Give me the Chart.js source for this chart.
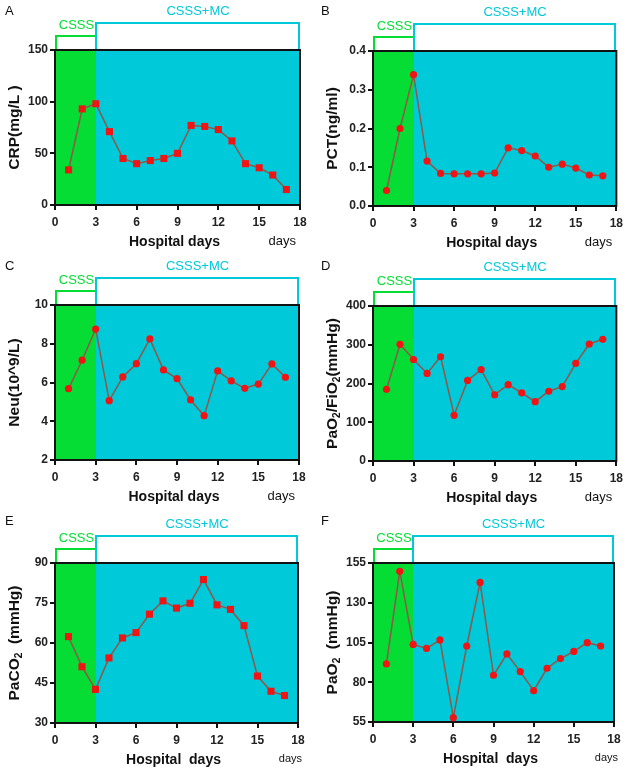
<!DOCTYPE html>
<html>
<head>
<meta charset="utf-8">
<script src="https://cdn.jsdelivr.net/npm/chart.js@4.4.1/dist/chart.umd.min.js"></script>
<style>
  html, body { margin: 0; padding: 0; background: #fff; }
  #wrap { position: relative; width: 628px; height: 772px; }
  .panel { position: absolute; }
</style>
</head>
<body>
<div id="wrap"></div>
<script>
// hospital days (x values)
const days = [1, 2, 3, 4, 5, 6, 7, 8, 9, 10, 11, 12, 13, 14, 15, 16, 17];
const xTicks = [0, 3, 6, 9, 12, 15, 18];

// series
const crp = [34, 93, 98, 71, 45, 40, 43, 45, 50, 77, 76, 73, 62, 40, 36, 29, 15];
const pct = [0.040, 0.200, 0.339, 0.116, 0.084, 0.083, 0.083, 0.083, 0.085, 0.150, 0.143, 0.129, 0.100, 0.108, 0.098, 0.080, 0.078];
const neu = [5.68, 7.15, 8.76, 5.06, 6.29, 6.97, 8.25, 6.65, 6.2, 5.1, 4.29, 6.6, 6.08, 5.7, 5.92, 6.96, 6.27];
const pfRatio = [185, 301, 262, 226, 269, 118, 208, 236, 171, 197, 176, 153, 180, 192, 252, 302, 314];
const paco2 = [62.4, 51.1, 42.6, 54.4, 61.9, 63.9, 70.8, 75.8, 73.1, 74.9, 83.8, 74.3, 72.6, 66.5, 47.6, 41.9, 40.3];
const pao2 = [91.5, 149.8, 103.8, 101.3, 106.6, 57.7, 102.8, 142.8, 84.4, 97.8, 86.7, 74.7, 88.8, 94.9, 99.4, 104.9, 102.8];

// y tick labels per panel
const crpTicks = [0, 50, 100, 150];
const pctTicks = ['0.0', '0.1', '0.2', '0.3', '0.4'];
const neuTicks = [2, 4, 6, 8, 10];
const pfTicks = [0, 100, 200, 300, 400];
const paco2Ticks = [30, 45, 60, 75, 90];
const pao2Ticks = [55, 80, 105, 130, 155];

const FONT = '"Liberation Sans", Arial, sans-serif';
const GREEN = '#05dd35';
const CYAN = '#00c9da';
const LINE = '#8e5848';
const DOT = '#f01414';

const panels = [
  { letter: 'A', left: 0, top: 0, w: 314, h: 255, area: [55, 50, 300, 205], data: crp, ticks: crpTicks, pt: 'rect',
    ytitle: [['CRP(mg/L )']], xtitle: 'Hospital days', small: false },
  { letter: 'B', left: 318, top: 0, w: 310, h: 255, area: [55, 51, 299, 206], data: pct, ticks: pctTicks, pt: 'circle',
    ytitle: [['PCT(ng/ml)']], xtitle: 'Hospital days', small: false },
  { letter: 'C', left: 0, top: 255, w: 314, h: 255, area: [55, 50, 299, 205], data: neu, ticks: neuTicks, pt: 'circle',
    ytitle: [['Neu(10^9/L)']], xtitle: 'Hospital days', small: false },
  { letter: 'D', left: 318, top: 255, w: 310, h: 255, area: [55, 51, 299, 206], data: pfRatio, ticks: pfTicks, pt: 'circle',
    ytitle: [['PaO'], ['2', 1], ['/FiO'], ['2', 1], ['(mmHg)']], xtitle: 'Hospital days', small: false },
  { letter: 'E', left: 0, top: 510, w: 314, h: 262, area: [55, 53, 298, 213], data: paco2, ticks: paco2Ticks, pt: 'rect',
    ytitle: [['PaCO'], ['2', 1], ['  (mmHg)']], xtitle: 'Hospital  days', small: true },
  { letter: 'F', left: 318, top: 510, w: 310, h: 262, area: [55, 53, 296, 212], data: pao2, ticks: pao2Ticks, pt: 'circle',
    ytitle: [['PaO'], ['2', 1], ['  (mmHg)']], xtitle: 'Hospital  days', small: true }
];

// text with subscripts, centred on (0,0) of current transform
function richText(ctx, parts, size) {
  let total = 0;
  parts.forEach(p => {
    ctx.font = 'bold ' + (p[1] ? size * 0.65 : size) + 'px ' + FONT;
    total += ctx.measureText(p[0]).width;
  });
  let x = -total / 2;
  ctx.textAlign = 'left';
  ctx.textBaseline = 'middle';
  parts.forEach(p => {
    ctx.font = 'bold ' + (p[1] ? size * 0.65 : size) + 'px ' + FONT;
    ctx.fillText(p[0], x, p[1] ? size * 0.3 : 0);
    x += ctx.measureText(p[0]).width;
  });
}

const decor = {
  id: 'decor',
  beforeDatasetsDraw(chart, args, opts) {
    const { ctx, chartArea: a, scales: { x, y } } = chart;
    const x0 = Math.round(x.getPixelForValue(0));
    const x3 = Math.round(x.getPixelForValue(3));
    const x18 = Math.round(x.getPixelForValue(18));
    const top = Math.round(a.top), bot = Math.round(a.bottom);
    ctx.save();
    ctx.fillStyle = GREEN;
    ctx.fillRect(x0, top, x3 - x0 + 1, bot - top);
    ctx.fillStyle = CYAN;
    ctx.fillRect(x3, top, x18 - x3, bot - top);

    // brackets
    ctx.lineWidth = 2;
    ctx.strokeStyle = GREEN;
    ctx.beginPath();
    ctx.moveTo(x0 + 1, top); ctx.lineTo(x0 + 1, top - 14); ctx.lineTo(x3, top - 14); ctx.lineTo(x3, top);
    ctx.stroke();
    ctx.strokeStyle = CYAN;
    ctx.beginPath();
    ctx.moveTo(x3, top); ctx.lineTo(x3, top - 27); ctx.lineTo(x18 - 1, top - 27); ctx.lineTo(x18 - 1, top);
    ctx.stroke();

    ctx.font = '13px ' + FONT;
    ctx.textAlign = 'center';
    ctx.textBaseline = 'middle';
    ctx.fillStyle = GREEN;
    ctx.fillText('CSSS', (x0 + x3) / 2 + 1, top - 25);
    ctx.fillStyle = CYAN;
    ctx.fillText('CSSS+MC', (x3 + x18) / 2, top - 39);

    // frame
    ctx.strokeStyle = '#111';
    ctx.lineWidth = 2;
    ctx.strokeRect(a.left, a.top, a.right - a.left, a.bottom - a.top);

    // panel letter
    ctx.fillStyle = '#111';
    ctx.font = '13px ' + FONT;
    ctx.textAlign = 'left';
    ctx.fillText(opts.letter, opts.lx, 11);

    // axis titles
    ctx.fillStyle = '#111';
    ctx.font = 'bold 14px ' + FONT;
    ctx.textAlign = 'center';
    ctx.fillText(opts.xtitle, (a.left + a.right) / 2 - 3, a.bottom + 37);
    ctx.font = (opts.small ? '11px ' : '13px ') + FONT;
    ctx.textAlign = 'right';
    ctx.fillText('days', opts.small ? a.right + 4 : a.right - 4, a.bottom + 36);

    ctx.translate(15, (a.top + a.bottom) / 2);
    ctx.rotate(-Math.PI / 2);
    richText(ctx, opts.ytitle, 15.5);
    ctx.restore();
  }
};

const wrap = document.getElementById('wrap');

panels.forEach(p => {
  const div = document.createElement('div');
  div.className = 'panel';
  div.style.left = p.left + 'px';
  div.style.top = p.top + 'px';
  div.style.width = p.w + 'px';
  div.style.height = p.h + 'px';
  const canvas = document.createElement('canvas');
  div.appendChild(canvas);
  wrap.appendChild(div);

  const [al, at, ar, ab] = p.area;
  const yMin = Number(p.ticks[0]), yMax = Number(p.ticks[p.ticks.length - 1]);

  new Chart(canvas, {
    type: 'line',
    data: {
      datasets: [{
        data: days.map((d, i) => ({ x: d, y: p.data[i] })),
        borderColor: LINE,
        borderWidth: 1.5,
        pointStyle: p.pt,
        pointRadius: p.pt === 'rect' ? 5 : 3.6,
        pointBackgroundColor: DOT,
        pointBorderColor: DOT,
        pointBorderWidth: 0,
        tension: 0,
        clip: false
      }]
    },
    options: {
      responsive: true,
      maintainAspectRatio: false,
      animation: false,
      events: [],
      layout: { padding: { left: 0, top: at, right: p.w - ar, bottom: 0 } },
      plugins: {
        legend: { display: false },
        tooltip: { enabled: false },
        decor: { letter: p.letter, lx: p.left === 0 ? 5 : 3, ytitle: p.ytitle, xtitle: p.xtitle, small: p.small }
      },
      scales: {
        x: {
          type: 'linear',
          min: 0,
          max: 18,
          afterFit: s => { s.height = p.h - ab; },
          afterBuildTicks: s => { s.ticks = xTicks.map(v => ({ value: v })); },
          ticks: { color: '#222', font: { family: FONT, size: 12, weight: 'bold' }, padding: 5, maxRotation: 0 },
          grid: { drawOnChartArea: false, drawTicks: true, tickLength: 5, color: '#111', lineWidth: 2 },
          border: { display: true, color: '#111', width: 2 }
        },
        y: {
          type: 'linear',
          min: yMin,
          max: yMax,
          afterFit: s => { s.width = al; },
          afterBuildTicks: s => { s.ticks = p.ticks.map(v => ({ value: Number(v) })); },
          ticks: {
            color: '#222',
            font: { family: FONT, size: 12, weight: 'bold' },
            padding: 2,
            callback: (v, i) => String(p.ticks[i])
          },
          grid: { drawOnChartArea: false, drawTicks: true, tickLength: 5, color: '#111', lineWidth: 2 },
          border: { display: true, color: '#111', width: 2 }
        }
      }
    },
    plugins: [decor]
  });
});
</script>
</body>
</html>
